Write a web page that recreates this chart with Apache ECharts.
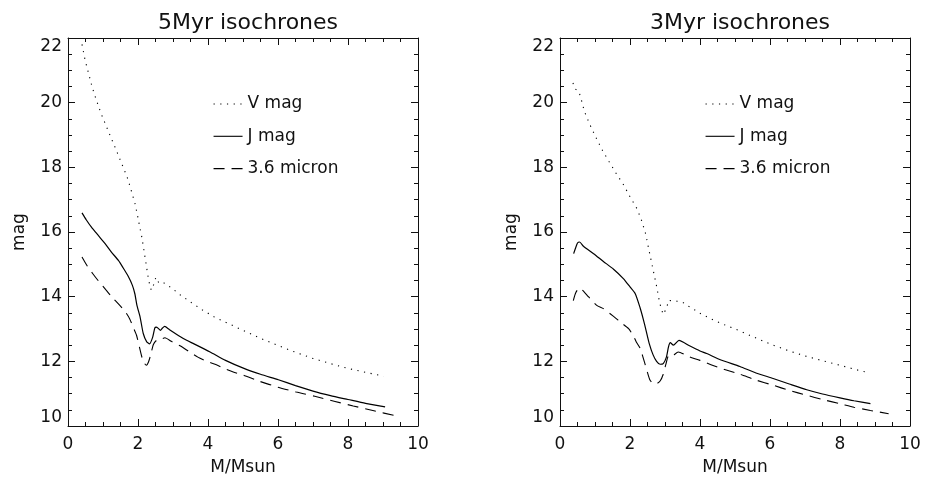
<!DOCTYPE html>
<html>
<head>
<meta charset="utf-8">
<script src="https://cdn.jsdelivr.net/npm/echarts@6/dist/echarts.min.js"></script>
<style>
html,body{margin:0;padding:0;background:#fff;}
#chart{width:926px;height:484px;}
</style>
</head>
<body>
<div id="chart"></div>
<script>
// ---- data (mass in Msun, magnitude) ----
const titles = ['5Myr isochrones', '3Myr isochrones'];
const seriesNames = ['V mag', 'J mag', '3.6 micron'];
const xTicks = [0, 2, 4, 6, 8, 10];
const yTicks = [10, 12, 14, 16, 18, 20, 22];

const vMag5 = [[0.40,21.80],[0.49,21.31],[0.59,20.90],[0.69,20.48],[0.81,20.08],[0.94,19.68],[1.09,19.28],[1.24,18.89],[1.39,18.50],[1.54,18.10],[1.69,17.70],[1.80,17.31],[1.91,16.90],[1.99,16.49],[2.06,16.10],[2.11,15.84],[2.17,15.43],[2.23,15.02],[2.29,14.60],[2.33,14.39],[2.38,14.20],[2.46,14.40],[2.51,14.60],[2.60,14.42],[2.72,14.44],[2.89,14.32],[3.04,14.20],[3.20,14.06],[3.52,13.82],[3.84,13.59],[4.17,13.38],[4.50,13.21],[5.00,12.96],[5.50,12.71],[6.00,12.49],[6.50,12.28],[7.00,12.09],[7.50,11.93],[8.00,11.78],[8.50,11.66],[9.02,11.54]];
const jMag5 = [[0.40,16.59],[0.52,16.38],[0.67,16.15],[0.86,15.90],[1.06,15.64],[1.24,15.38],[1.44,15.12],[1.57,14.90],[1.72,14.63],[1.84,14.35],[1.91,14.09],[1.97,13.73],[2.06,13.37],[2.15,12.86],[2.25,12.60],[2.33,12.54],[2.42,12.75],[2.48,13.03],[2.52,13.06],[2.58,13.02],[2.64,12.96],[2.70,13.03],[2.76,13.08],[2.90,12.98],[3.20,12.77],[3.39,12.65],[3.60,12.54],[4.06,12.29],[4.50,12.03],[5.01,11.79],[5.50,11.60],[6.01,11.43],[6.50,11.25],[7.00,11.08],[7.50,10.94],[8.00,10.82],[8.50,10.70],[9.06,10.59]];
const irac5 = [[0.40,15.23],[0.55,14.95],[0.71,14.71],[0.86,14.50],[1.09,14.20],[1.24,14.01],[1.48,13.73],[1.62,13.56],[1.76,13.32],[1.86,13.06],[1.96,12.80],[2.05,12.40],[2.12,12.10],[2.19,11.93],[2.24,11.88],[2.30,11.98],[2.36,12.19],[2.44,12.52],[2.53,12.65],[2.65,12.68],[2.77,12.73],[2.95,12.62],[3.20,12.48],[3.49,12.28],[3.71,12.13],[3.95,12.01],[4.20,11.91],[4.49,11.77],[4.72,11.67],[5.01,11.57],[5.48,11.38],[6.00,11.20],[6.52,11.05],[7.05,10.92],[7.63,10.76],[8.15,10.62],[8.74,10.47],[9.34,10.32]];

const vMag3 = [[0.37,20.61],[0.43,20.43],[0.54,20.34],[0.60,20.13],[0.70,19.72],[0.85,19.33],[1.02,18.94],[1.20,18.55],[1.40,18.18],[1.60,17.82],[1.81,17.47],[2.00,17.09],[2.20,16.72],[2.34,16.33],[2.45,15.93],[2.53,15.50],[2.61,15.09],[2.69,14.68],[2.77,14.27],[2.84,13.85],[2.89,13.64],[2.95,13.45],[3.05,13.66],[3.10,13.89],[3.21,13.87],[3.34,13.86],[3.50,13.83],[3.66,13.71],[3.82,13.61],[3.99,13.49],[4.32,13.31],[4.70,13.13],[5.14,12.94],[5.60,12.72],[6.09,12.50],[6.55,12.32],[7.05,12.15],[7.50,12.02],[8.00,11.88],[8.40,11.76],[8.84,11.64]];
const jMag3 = [[0.39,15.33],[0.44,15.49],[0.50,15.66],[0.56,15.69],[0.67,15.56],[0.96,15.33],[1.24,15.09],[1.53,14.85],[1.81,14.56],[2.00,14.30],[2.15,14.09],[2.29,13.65],[2.38,13.30],[2.46,12.95],[2.55,12.55],[2.66,12.20],[2.76,12.00],[2.86,11.91],[2.95,11.93],[3.04,12.13],[3.10,12.45],[3.15,12.58],[3.24,12.50],[3.40,12.65],[3.70,12.48],[4.00,12.32],[4.19,12.24],[4.60,12.04],[5.14,11.84],[5.60,11.64],[6.09,11.47],[6.55,11.30],[7.05,11.12],[7.50,10.99],[8.00,10.87],[8.40,10.78],[8.87,10.69]];
const irac3 = [[0.38,13.88],[0.45,14.12],[0.55,14.27],[0.64,14.20],[0.82,13.99],[1.05,13.73],[1.24,13.63],[1.53,13.39],[1.72,13.22],[1.96,13.01],[2.10,12.78],[2.18,12.60],[2.29,12.40],[2.42,11.95],[2.50,11.65],[2.57,11.42],[2.65,11.32],[2.76,11.31],[2.86,11.39],[2.95,11.60],[3.03,11.93],[3.10,12.17],[3.18,12.15],[3.38,12.29],[3.67,12.15],[4.00,12.03],[4.50,11.82],[5.14,11.60],[5.60,11.42],[6.09,11.26],[6.55,11.10],[7.05,10.95],[7.50,10.82],[8.00,10.69],[8.40,10.58],[8.87,10.48],[9.39,10.38]];

const panels = [[vMag5, jMag5, irac5], [vMag3, jMag3, irac3]];

// ---- layout / style ----
const FONT = 'DejaVu Sans';
const INK = '#111';
const gridLefts = [68, 560];
const lineTypes = [[1.2, 5.5], 'solid', [11, 7]];

const chart = echarts.init(document.getElementById('chart'), null, {renderer: 'canvas'});

const grids = [], xAxes = [], yAxes = [], series = [], titleOpts = [], legends = [];
gridLefts.forEach((gl, i) => {
  grids.push({left: gl, top: 38, width: 350, height: 388, containLabel: false});
  const common = {
    type: 'value', gridIndex: i, min: xTicks[0], max: xTicks[xTicks.length - 1], interval: 2,
    axisLine: {show: true, onZero: false, lineStyle: {color: INK, width: 1}},
    axisTick: {show: true, inside: true, length: 7, lineStyle: {color: INK}},
    minorTick: {show: true, splitNumber: 4, length: 4, lineStyle: {color: INK}},
    splitLine: {show: false}
  };
  xAxes.push(Object.assign({}, common, {
    position: 'bottom',
    axisLabel: {fontSize: 17, fontFamily: FONT, color: INK, margin: 10},
    name: 'M/Msun', nameLocation: 'middle', nameGap: 33,
    nameTextStyle: {fontSize: 17, fontFamily: FONT, color: INK}
  }));
  xAxes.push(Object.assign({}, common, {position: 'top', axisLabel: {show: false}}));
  const ycommon = Object.assign({}, common, {min: yTicks[0], max: yTicks[yTicks.length - 1], interval: 2});
  yAxes.push(Object.assign({}, ycommon, {
    position: 'left',
    axisLabel: {fontSize: 17, fontFamily: FONT, color: INK, margin: 6,
      verticalAlignMinLabel: 'bottom', verticalAlignMaxLabel: 'top'},
    name: 'mag', nameLocation: 'middle', nameGap: 40, nameRotate: 90,
    nameTextStyle: {fontSize: 17, fontFamily: FONT, color: INK}
  }));
  yAxes.push(Object.assign({}, ycommon, {position: 'right', axisLabel: {show: false}}));

  panels[i].forEach((d, k) => {
    series.push({
      type: 'line', name: seriesNames[k], data: d,
      xAxisIndex: i * 2, yAxisIndex: i * 2,
      showSymbol: false, symbol: 'none', smooth: k === 0 ? false : 0.2,
      lineStyle: {color: '#000', width: k === 1 ? 1.2 : 1.1, type: lineTypes[k]},
      itemStyle: {color: '#000'},
      silent: true, animation: false
    });
  });

  titleOpts.push({
    text: titles[i], left: gl + 175, top: 7, textAlign: 'center',
    textStyle: {fontSize: 22, fontWeight: 'normal', fontFamily: FONT, color: INK}
  });
  legends.push({
    data: seriesNames, orient: 'vertical', left: gl + 140, top: 90,
    itemWidth: 29, itemHeight: 18, itemGap: 14.3, selectedMode: false,
    itemStyle: {color: 'rgba(0,0,0,0)', borderWidth: 0, opacity: 0},
    lineStyle: {color: '#000', width: 1.1},
    textStyle: {fontSize: 17, fontFamily: FONT, color: INK, lineHeight: 18}
  });
});

chart.setOption({
  backgroundColor: '#fff',
  animation: false,
  title: titleOpts,
  legend: legends,
  grid: grids,
  xAxis: xAxes,
  yAxis: yAxes,
  series: series
});
</script>
</body>
</html>
